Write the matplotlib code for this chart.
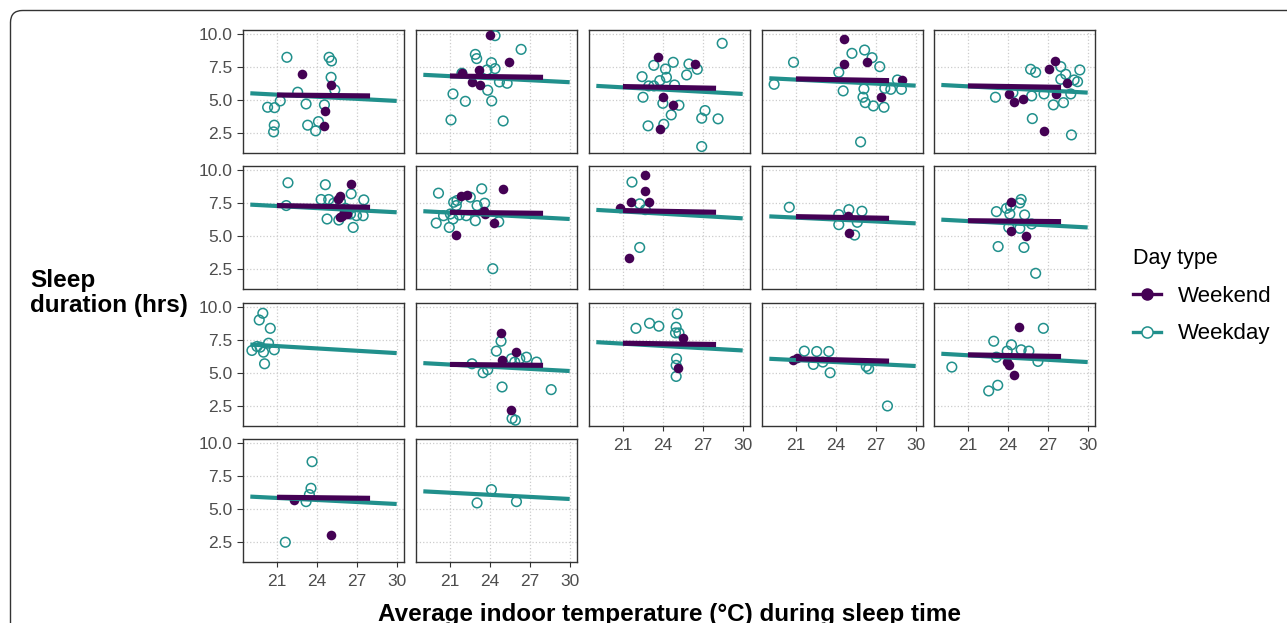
import matplotlib
matplotlib.use('Agg')
import matplotlib.pyplot as plt
from matplotlib.lines import Line2D
from matplotlib.patches import FancyBboxPatch

plt.rcParams['font.family'] = ['Liberation Sans', 'DejaVu Sans']

WEEKEND_COLOR = '#440154'
WEEKDAY_COLOR = '#21908C'

# one entry per panel (17 participants)
weekday_temp = [
    [20.30, 20.82, 21.25, 20.80, 20.75, 21.75, 22.56, 23.19, 23.31, 23.91, 24.12, 24.92, 25.10, 25.07, 25.35, 24.57],
    [21.23, 22.16, 21.08, 22.91, 23.01, 23.79, 24.12, 24.39, 24.39, 23.84, 24.14, 24.72, 25.30, 25.00, 26.35, 21.90],
    [22.44, 23.32, 24.78, 24.20, 24.27, 23.77, 22.94, 23.32, 24.88, 22.51, 24.00, 25.21, 24.63, 24.07, 22.89, 25.79,
     25.96, 26.59, 27.17, 26.92, 28.15, 26.92, 28.46],
    [19.36, 20.82, 24.22, 25.21, 26.16, 26.72, 27.30, 24.55, 26.11, 26.04, 26.21, 26.82, 27.62, 27.68, 28.13, 28.63,
     28.93, 25.86],
    [23.07, 24.38, 25.71, 26.09, 25.79, 26.72, 27.42, 28.18, 27.98, 28.35, 27.98, 28.98, 29.24, 29.41, 28.73, 25.84,
     28.78],
    [21.83, 21.70, 24.64, 24.32, 24.89, 25.27, 25.77, 26.58, 27.53, 24.77, 25.65, 26.73, 26.98, 27.48, 26.53, 26.15],
    [20.14, 19.97, 20.52, 20.95, 21.03, 21.28, 21.48, 21.53, 21.23, 21.70, 22.23, 22.53, 23.04, 23.39, 23.61, 22.91,
     24.67, 24.22],
    [21.68, 22.26, 22.69, 22.26],
    [20.50, 24.22, 24.98, 25.96, 25.61, 24.22, 25.41],
    [23.14, 23.90, 24.20, 24.90, 25.00, 24.15, 25.26, 25.79, 24.90, 24.07, 23.27, 25.21, 26.09],
    [19.94, 19.67, 20.50, 19.12, 19.50, 20.37, 19.99, 20.80, 20.07, 19.74],
    [22.66, 23.49, 23.84, 24.49, 24.84, 25.62, 26.25, 26.75, 27.51, 24.92, 28.61, 25.67, 25.92, 25.87],
    [21.98, 23.00, 23.70, 25.08, 25.00, 24.95, 25.21, 25.03, 25.00, 25.00],
    [21.63, 22.56, 23.47, 22.31, 23.02, 23.57, 26.29, 26.47, 27.88],
    [19.79, 22.94, 23.14, 24.27, 23.95, 25.00, 25.58, 26.26, 26.67, 22.56, 23.24],
    [23.64, 23.56, 23.44, 23.19, 21.63],
    [23.04, 24.12, 26.00],
]
weekday_sleep = [
    [4.47, 4.44, 4.95, 3.11, 2.60, 8.26, 5.61, 4.72, 3.11, 2.68, 3.38, 8.26, 7.98, 6.74, 5.78, 4.65],
    [5.48, 4.92, 3.51, 8.48, 8.16, 7.30, 7.85, 7.40, 9.90, 5.76, 4.95, 6.39, 6.29, 3.43, 8.86, 7.05],
    [6.79, 7.65, 7.88, 7.37, 6.74, 6.49, 6.09, 6.09, 6.16, 5.23, 4.77, 4.62, 3.89, 3.18, 3.06, 6.92,
     7.75, 7.35, 4.22, 3.64, 3.59, 1.49, 9.32],
    [6.21, 7.88, 7.12, 8.56, 8.81, 8.23, 7.55, 5.71, 5.86, 5.23, 4.82, 4.57, 4.47, 5.91, 5.83, 6.54,
     5.83, 1.84],
    [5.23, 5.58, 7.35, 7.12, 5.33, 5.48, 4.65, 4.82, 7.55, 6.97, 6.59, 6.54, 6.41, 7.30, 5.48, 3.61,
     2.37],
    [9.06, 7.33, 8.91, 7.79, 7.79, 7.51, 7.63, 8.22, 7.76, 6.31, 6.23, 5.67, 6.56, 6.56, 6.69, 7.12],
    [8.27, 6.00, 6.56, 5.67, 6.69, 7.58, 7.33, 7.71, 6.31, 6.62, 6.56, 7.96, 7.33, 8.60, 7.51, 6.18,
     6.10, 2.54],
    [9.11, 7.46, 7.02, 4.15],
    [7.20, 6.64, 7.02, 6.90, 6.06, 5.88, 5.09],
    [6.87, 7.12, 7.28, 7.53, 7.79, 6.69, 6.62, 5.93, 5.60, 5.67, 4.22, 4.15, 2.19],
    [9.55, 9.04, 8.41, 6.73, 7.03, 7.28, 6.60, 6.78, 5.72, 6.98],
    [5.72, 5.04, 5.27, 6.68, 7.43, 6.10, 6.10, 6.22, 5.85, 3.96, 3.76, 1.57, 1.44, 5.85],
    [8.41, 8.79, 8.57, 9.50, 8.49, 8.06, 8.06, 6.10, 5.60, 4.76],
    [6.68, 6.65, 6.65, 5.67, 5.85, 5.04, 5.52, 5.34, 2.52],
    [5.47, 7.43, 6.22, 7.16, 6.68, 6.78, 6.68, 5.90, 8.41, 3.66, 4.09],
    [8.61, 6.59, 6.11, 5.58, 2.50],
    [5.48, 6.49, 5.58],
]
weekend_temp = [
    [22.86, 25.05, 24.64, 24.57],
    [24.04, 25.47, 23.16, 22.66, 23.24, 21.90],
    [23.67, 26.42, 24.00, 24.75, 23.75],
    [24.65, 24.60, 26.37, 27.42, 28.98],
    [27.55, 27.10, 28.48, 24.07, 24.45, 25.13, 27.60, 26.72],
    [26.53, 25.72, 25.60, 25.90, 26.03, 26.23, 25.72],
    [21.85, 22.28, 25.00, 21.45, 23.59, 23.66, 24.29],
    [22.69, 22.69, 21.63, 22.99, 20.75, 21.48],
    [24.90, 24.98],
    [24.27, 24.27, 25.33],
    [],
    [24.84, 24.92, 25.99, 25.58],
    [25.50, 25.16],
    [20.75, 21.08],
    [24.83, 23.95, 24.07, 24.45],
    [22.26, 25.07],
    [],
]
weekend_sleep = [
    [6.97, 6.16, 4.22, 3.06],
    [9.95, 7.93, 7.32, 6.41, 6.19, 7.10],
    [8.31, 7.75, 5.28, 4.62, 2.80],
    [9.65, 7.75, 7.93, 5.23, 6.54],
    [8.00, 7.35, 6.29, 5.48, 4.90, 5.08, 5.48, 2.70],
    [8.98, 8.09, 7.84, 6.56, 6.82, 6.69, 6.49],
    [8.09, 8.14, 8.60, 5.09, 6.95, 6.69, 5.98],
    [9.67, 8.40, 7.58, 7.63, 7.15, 3.38],
    [6.56, 5.24],
    [7.58, 5.42, 4.99],
    [],
    [8.04, 6.02, 6.60, 2.20],
    [7.66, 5.39],
    [5.97, 6.15],
    [8.54, 5.85, 5.65, 4.84],
    [5.71, 3.06],
    [],
]

# fitted lines: predicted sleep at the two ends of each day type's range
weekday_range = [19, 30]
weekend_range = [21, 28]
weekday_fit = [
    [5.53, 4.95], [6.93, 6.37], [6.09, 5.48], [6.67, 6.11], [6.16, 5.58],
    [7.40, 6.82], [6.90, 6.31], [7.00, 6.36], [6.51, 5.98], [6.26, 5.67],
    [7.18, 6.53], [5.77, 5.17], [7.36, 6.73], [6.10, 5.55], [6.48, 5.85],
    [5.96, 5.40], [6.36, 5.78],
]
weekend_fit = [
    [5.40, 5.33], [6.84, 6.74], [6.04, 5.91], [6.62, 6.49], [6.09, 5.98],
    [7.33, 7.20], [6.82, 6.74], [6.95, 6.82], [6.49, 6.36], [6.18, 6.11],
    None, [5.67, 5.60], [7.28, 7.18], [6.10, 5.92], [6.40, 6.27],
    [5.91, 5.83], None,
]

x_ticks = [21, 24, 27, 30]
y_ticks = [2.5, 5.0, 7.5, 10.0]

W, H = 1287, 623
col_left = [243, 416, 589, 762, 934]
row_top = [30, 166, 303, 439]
pw, ph = 161, 123

fig = plt.figure(figsize=(W / 100, H / 100), dpi=100)

# outer rounded frame
bg = fig.add_axes([0, 0, 1, 1], zorder=-5)
bg.set_xlim(0, W)
bg.set_ylim(H, 0)
bg.axis('off')
bg.add_patch(FancyBboxPatch((10.5, 10.5), 1400, 800,
                            boxstyle='round,pad=0,rounding_size=12',
                            fill=False, edgecolor='#333333', linewidth=1.0,
                            clip_on=False))

n_panels = len(weekday_temp)
for i in range(n_panels):
    r, c = divmod(i, 5)
    ax = fig.add_axes([col_left[c] / W, 1 - (row_top[r] + ph) / H, pw / W, ph / H])
    ax.set_xlim(18.45, 30.55)
    ax.set_ylim(1.0, 10.33)
    ax.set_xticks(x_ticks)
    ax.set_yticks(y_ticks)
    ax.grid(True, linestyle=':', color='#cccccc', linewidth=0.9)
    ax.set_axisbelow(True)
    for s in ax.spines.values():
        s.set_color('#333333')
        s.set_linewidth(1.0)

    ax.scatter(weekday_temp[i], weekday_sleep[i], s=48, facecolors='none',
               edgecolors=WEEKDAY_COLOR, linewidths=1.1, zorder=3)
    ax.scatter(weekend_temp[i], weekend_sleep[i], s=48, color=WEEKEND_COLOR,
               linewidths=0, zorder=3)
    ax.plot(weekday_range, weekday_fit[i], color=WEEKDAY_COLOR, lw=3.0,
            solid_capstyle='butt', zorder=4)
    if weekend_fit[i] is not None:
        ax.plot(weekend_range, weekend_fit[i], color=WEEKEND_COLOR, lw=3.7,
                solid_capstyle='butt', zorder=5)

    show_x = (i + 5 >= n_panels)
    show_y = (c == 0)
    ax.tick_params(axis='x', bottom=show_x, labelbottom=show_x, length=3.5,
                   color='#333333', labelcolor='#4d4d4d', labelsize=12.5, pad=5)
    ax.tick_params(axis='y', left=show_y, labelleft=show_y, length=4,
                   color='#333333', labelcolor='#4d4d4d', labelsize=12.5, pad=3.5)
    if show_y:
        ax.set_yticklabels(['2.5', '5.0', '7.5', '10.0'])

fig.text(30 / W, 1 - 293 / H, 'Sleep\nduration (hrs)', fontsize=17.5,
         fontweight='bold', ha='left', va='center', linespacing=1.12)
fig.text(669 / W, 1 - 614 / H, 'Average indoor temperature (°C) during sleep time',
         fontsize=17.5, fontweight='bold', ha='center', va='center')

handles = [
    Line2D([], [], color=WEEKEND_COLOR, lw=2.4, marker='o', markersize=8,
           markerfacecolor=WEEKEND_COLOR, markeredgecolor=WEEKEND_COLOR),
    Line2D([], [], color=WEEKDAY_COLOR, lw=2.4, marker='o', markersize=8,
           markerfacecolor='white', markeredgecolor=WEEKDAY_COLOR,
           markeredgewidth=1.1),
]
leg = fig.legend(handles, ['Weekend', 'Weekday'], title='Day type',
                 loc='upper left', bbox_to_anchor=(1113 / W, 1 - 228 / H),
                 frameon=False, fontsize=16, title_fontsize=15.5,
                 handlelength=1.25, handletextpad=0.75, labelspacing=0.75,
                 alignment='left')

fig.savefig('out.png', dpi=100)
